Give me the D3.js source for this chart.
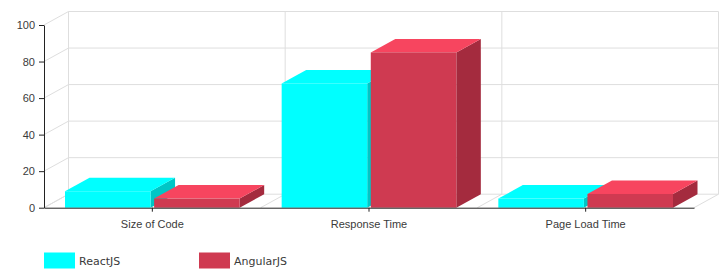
<!DOCTYPE html>
<html>
<head>
<meta charset="utf-8">
<script src="https://cdn.jsdelivr.net/npm/d3@7"></script>
<style>
  body { margin: 0; background: #fff; }
  svg { display: block; font-family: "DejaVu Sans", Verdana, sans-serif; }
  .tick text { fill: #3a3a3a; font-size: 11px; }
  .legend text { fill: #3a3a3a; font-size: 11px; }
</style>
</head>
<body>
<svg width="728" height="269"></svg>
<script>
// 3D-ish grouped columns: ReactJS vs AngularJS
const categories = ['Size of Code', 'Response Time', 'Page Load Time'];
const seriesNames = ['ReactJS', 'AngularJS'];
const reactValues = [9, 68, 5];
const angularValues = [5, 85, 7.5];
const yTicks = [0, 20, 40, 60, 80, 100];

const colors = {
  ReactJS:   { front: '#00ffff', top: '#00ffff', side: '#00c6c6' },
  AngularJS: { front: '#cf3a51', top: '#f7455f', side: '#a42b3e' }
};

const svg = d3.select('svg');
const left = 44, right = 694, base = 207.7, topY = 25;
const dx = 24.5, dy = -13.5; // depth offset of the back wall

const x = d3.scaleBand().domain(categories).range([left, right]);
const xs = d3.scaleBand().domain(seriesNames).range([21, x.bandwidth() - 21])
  .paddingInner(0.04);
const y = d3.scaleLinear().domain([0, 100]).range([base, topY]);

// walls / grid
const grid = svg.append('g').attr('stroke', '#dedede').attr('stroke-width', 1).attr('fill', 'none');
yTicks.forEach(t => {
  grid.append('line').attr('x1', left + dx).attr('x2', right + dx)
    .attr('y1', y(t) + dy).attr('y2', y(t) + dy);
  grid.append('line').attr('x1', left).attr('y1', y(t))
    .attr('x2', left + dx).attr('y2', y(t) + dy);
});
const bounds = categories.map(c => x(c)).concat([right]);
bounds.forEach(b => {
  grid.append('line').attr('x1', b + dx).attr('x2', b + dx)
    .attr('y1', y(100) + dy).attr('y2', y(0) + dy);
  grid.append('line').attr('x1', b).attr('y1', y(0))
    .attr('x2', b + dx).attr('y2', y(0) + dy);
});

// bars
const rows = categories.map((c, i) => ({ cat: c, vals: [reactValues[i], angularValues[i]] }));
const bars = svg.append('g');
rows.forEach(r => {
  r.vals.forEach((v, j) => {
    const s = seriesNames[j], col = colors[s];
    const x0 = x(r.cat) + xs(s), x1 = x0 + xs.bandwidth();
    const y0 = y(0), y1 = y(v);
    const g = bars.append('g');
    g.append('path').attr('fill', col.side)
      .attr('d', `M${x1},${y0}L${x1},${y1}L${x1 + dx},${y1 + dy}L${x1 + dx},${y0 + dy}Z`);
    g.append('path').attr('fill', col.top)
      .attr('d', `M${x0},${y1}L${x1},${y1}L${x1 + dx},${y1 + dy}L${x0 + dx},${y1 + dy}Z`);
    g.append('rect').attr('fill', col.front)
      .attr('x', x0).attr('y', y1).attr('width', x1 - x0).attr('height', y0 - y1);
  });
});

// axes
const ya = svg.append('g').attr('transform', `translate(${left},0)`)
  .call(d3.axisLeft(y).tickValues(yTicks).tickSize(5).tickSizeOuter(0).tickPadding(4));
ya.selectAll('path,line').attr('stroke', '#222');
const xa = svg.append('g').attr('transform', `translate(0,${base})`)
  .call(d3.axisBottom(x).tickSize(4).tickSizeOuter(0).tickPadding(9));
xa.selectAll('path,line').attr('stroke', '#222');

// legend
const lg = svg.append('g').attr('class', 'legend');
seriesNames.forEach((s, i) => {
  const lx = 44 + i * 155;
  lg.append('rect').attr('x', lx).attr('y', 252.5).attr('width', 31).attr('height', 16)
    .attr('fill', colors[s].front);
  lg.append('text').attr('x', lx + 35).attr('y', 265).text(s);
});
</script>
</body>
</html>
